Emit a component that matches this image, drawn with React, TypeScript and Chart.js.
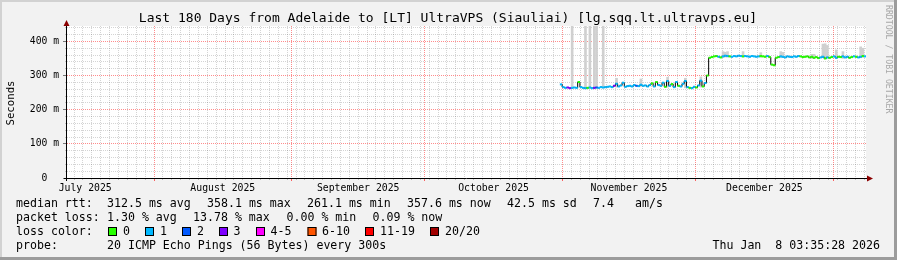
import React, { useEffect, useRef } from 'react';
import { Chart, registerables } from 'chart.js';

Chart.register(...registerables);

const MONO = '"DejaVu Sans Mono", monospace';

const titleText = 'Last 180 Days from Adelaide to [LT] UltraVPS (Siauliai) [lg.sqq.lt.ultravps.eu]';

// x axis: days since 2025-07-12 00:00 (local time)
const rangeStartDay = 0.4;
const rangeEndDay = 180.4;
const monthLabels = ['July 2025', 'August 2025', 'September 2025', 'October 2025', 'November 2025', 'December 2025'];
const monthStartDays = [-11, 20, 51, 81, 112, 142, 173];
const minorGridStepDays = 2;

// y axis (ms)
const yMax = 445;
const yStep = 20;
const yLabelStep = 100;

// samples
const firstSampleDay = 111.7;
const sampleStepDays = 0.5;

const medianRtt = [
  274, 266, 264, 265, 263, 264, 265, 264, 281, 266,
  264, 263, 264, 265, 263, 264, 265, 264, 266, 265,
  266, 267, 268, 266, 270, 276, 268, 271, 279, 267,
  269, 270, 268, 272, 270, 269, 273, 270, 271, 268,
  272, 277, 268, 281, 272, 270, 279, 267, 284, 270,
  275, 266, 281, 270, 268, 276, 284, 266, 264, 263,
  267, 265, 271, 285, 268, 278, 300, 352,
  354, 356, 357, 355, 353, 356, 358, 357, 356, 355, 357, 356, 358, 357,
  356, 357, 356, 355, 357, 356, 355, 356, 357, 356, 355, 357, 354,
  332, 330, 352,
  354, 356, 355, 353, 356, 355, 354, 356, 355, 357,
  356, 354, 355, 356, 353, 355, 352, 354, 351, 353,
  355, 350, 353, 352, 354, 356, 352, 355, 354, 356,
  353, 355, 352, 354, 356, 355, 353, 355, 357, 356,
];

const lossCount = [
  1, 1, 1, 3, 3, 1, 1, 1, 0, 1,
  1, 1, 0, 1, 1, 3, 2, 1, 1, 1,
  1, 1, 1, 1, 3, 1, 1, 1, 1, 1,
  1, 1, 1, 1, 2, 1, 1, 1, 1, 1,
  1, 0, 1, 0, 1, 1, 1, 0, 1, 1,
  0, 1, 1, 0, 1, 1, 1, 1, 0, 1,
  1, 0, 1, 1, 0, 1, 0, 0,
  0, 0, 0, 1, 0, 1, 1, 1, 0, 1, 1, 1, 1, 1,
  0, 1, 1, 1, 1, 1, 1, 1, 0, 0, 0, 1, 0,
  0, 0, 0,
  0, 1, 1, 1, 1, 1, 1, 1, 1, 1,
  0, 0, 0, 0, 0, 0, 0, 0, 0, 1,
  1, 0, 1, 0, 0, 1, 1, 0, 0, 1,
  1, 1, 0, 0, 1, 0, 1, 1, 0, 1,
];

// smoke (min..max of individual pings) where visible
const smokeIndex = [5, 11, 13, 15, 16, 19, 25, 36, 48, 56, 63, 73, 74, 75, 82, 90, 99, 100, 113, 114, 118, 119, 120, 124, 127, 135, 136];
const smokeMax = [445, 445, 445, 445, 445, 445, 292, 290, 295, 292, 296, 370, 368, 370, 370, 367, 370, 368, 362, 362, 392, 393, 388, 375, 370, 384, 380];
const smokeMin = [262, 261, 262, 261, 262, 263, 266, 268, 266, 264, 266, 353, 354, 354, 354, 353, 352, 353, 350, 351, 352, 351, 352, 351, 350, 352, 353];

const lossLegend = ['0', '1', '2', '3', '4-5', '6-10', '11-19', '20/20'];
const lossLegendColors = ['#26ff00', '#00b8ff', '#0059ff', '#7e00ff', '#ff00ff', '#ff5500', '#ff0000', '#a10000'];

const statsRtt = ['median rtt:', '312.5 ms avg', '358.1 ms max', '261.1 ms min', '357.6 ms now', '42.5 ms sd', '7.4', 'am/s'];
const statsLoss = ['packet loss:', '1.30 % avg', '13.78 % max', '0.00 % min', '0.09 % now'];
const probeText = ['probe:', '20 ICMP Echo Pings (56 Bytes) every 300s'];
const dateText = 'Thu Jan  8 03:35:28 2026';
const sideText = 'RRDTOOL / TOBI OETIKER';

function lossColor(n: number): string {
  if (n <= 3) return lossLegendColors[n];
  if (n <= 5) return lossLegendColors[4];
  if (n <= 10) return lossLegendColors[5];
  if (n <= 19) return lossLegendColors[6];
  return lossLegendColors[7];
}

const majorDays = monthStartDays.filter((d) => d > rangeStartDay && d < rangeEndDay);
const minorDays: number[] = [];
for (let d = minorGridStepDays; d < rangeEndDay; d += minorGridStepDays) {
  if (!majorDays.includes(d)) minorDays.push(d);
}
const labelDays: number[] = [];
const labelByDay = new Map<number, string>();
monthLabels.forEach((name, k) => {
  const mid = (monthStartDays[k] + monthStartDays[k + 1]) / 2;
  if (mid > rangeStartDay && mid < rangeEndDay) {
    labelDays.push(mid);
    labelByDay.set(mid, name);
  }
});
const yMajorValues: number[] = [];
const yMinorValues: number[] = [];
for (let v = 0; v <= yMax; v += yStep) {
  if (v % yLabelStep === 0) yMajorValues.push(v);
  else yMinorValues.push(v);
}

const MINOR = 'rgba(0,0,0,0.17)';
const MAJOR = 'rgba(255,0,0,0.45)';

const framePlugin = {
  id: 'rrdFrame',
  beforeDraw(chart: any) {
    const { ctx, chartArea: a } = chart;
    ctx.save();
    ctx.fillStyle = '#f2f2f2';
    ctx.fillRect(0, 0, 897, 260);
    ctx.fillStyle = '#d2d2d2';
    ctx.fillRect(0, 0, 897, 2);
    ctx.fillRect(0, 0, 2, 260);
    ctx.fillStyle = '#9c9c9c';
    ctx.fillRect(0, 257, 897, 3);
    ctx.fillRect(894, 0, 3, 260);
    ctx.fillStyle = '#ffffff';
    ctx.fillRect(a.left, a.top, a.right - a.left, a.bottom - a.top);
    ctx.restore();
  },
  afterDatasetsDraw(chart: any) {
    const { ctx, chartArea: a } = chart;
    ctx.save();
    ctx.strokeStyle = '#000';
    ctx.lineWidth = 1;
    ctx.beginPath();
    ctx.moveTo(a.left - 0.5, a.bottom + 3);
    ctx.lineTo(a.left - 0.5, 23);
    ctx.moveTo(a.left - 3, a.bottom + 0.5);
    ctx.lineTo(a.right + 3, a.bottom + 0.5);
    ctx.stroke();
    ctx.fillStyle = '#8b0000';
    ctx.beginPath();
    ctx.moveTo(a.left - 0.5, 20);
    ctx.lineTo(a.left - 3.5, 26);
    ctx.lineTo(a.left + 2.5, 26);
    ctx.closePath();
    ctx.fill();
    ctx.beginPath();
    ctx.moveTo(a.right + 7, a.bottom + 0.5);
    ctx.lineTo(a.right + 1, a.bottom - 2.5);
    ctx.lineTo(a.right + 1, a.bottom + 3.5);
    ctx.closePath();
    ctx.fill();
    ctx.restore();
  },
  afterDraw(chart: any) {
    const { ctx } = chart;
    ctx.save();
    ctx.fillStyle = '#000';
    ctx.textBaseline = 'middle';
    ctx.textAlign = 'center';
    ctx.font = `13px ${MONO}`;
    ctx.fillText(titleText, 448, 19);

    ctx.save();
    ctx.translate(11, 103);
    ctx.rotate(-Math.PI / 2);
    ctx.font = `10.7px ${MONO}`;
    ctx.fillText('Seconds', 0, 0);
    ctx.restore();

    ctx.save();
    ctx.translate(888, 5);
    ctx.rotate(Math.PI / 2);
    ctx.textAlign = 'left';
    ctx.fillStyle = '#a8a8a8';
    ctx.font = `8.2px ${MONO}`;
    ctx.fillText(sideText, 0, 0);
    ctx.restore();

    ctx.textAlign = 'left';
    ctx.font = `11.6px ${MONO}`;
    const rttX = [16, 107, 207, 307, 407, 507, 593, 635];
    statsRtt.forEach((t, i) => ctx.fillText(t, rttX[i], 204));
    const lossX = [16, 107, 193, 286.5, 372.5];
    statsLoss.forEach((t, i) => ctx.fillText(t, lossX[i], 218));
    ctx.fillText('loss color:', 16, 232);
    const boxX = [108, 145, 182, 219, 256, 307.5, 365, 430];
    const textX = [123, 160, 197, 233.5, 270.5, 322, 380, 445];
    lossLegend.forEach((t, i) => {
      ctx.fillStyle = lossLegendColors[i];
      ctx.fillRect(boxX[i], 227, 9, 9);
      ctx.strokeStyle = '#000';
      ctx.lineWidth = 1;
      ctx.strokeRect(boxX[i] + 0.5, 227.5, 8, 8);
      ctx.fillStyle = '#000';
      ctx.fillText(t, textX[i], 232);
    });
    ctx.fillText(probeText[0], 16, 246);
    ctx.fillText(probeText[1], 107, 246);
    ctx.textAlign = 'right';
    ctx.fillText(dateText, 880, 246);
    ctx.restore();
  },
};

function fixedTicks(values: number[]) {
  return (s: any) => {
    s.ticks = values.map((v) => ({ value: v }));
  };
}

export default function App() {
  const ref = useRef<HTMLCanvasElement>(null);

  useEffect(() => {
    document.body.style.margin = '0';
    const canvas = ref.current;
    if (!canvas) return;

    const sampleDays = medianRtt.map((_, i) => firstSampleDay + i * sampleStepDays);
    const medianPoints = medianRtt.map((v, i) => ({ x: sampleDays[i], y: v }));
    const smokeBars = smokeIndex.map((k, j) => ({ x: sampleDays[k], y: [smokeMin[j], smokeMax[j]] }));

    const xBase = { type: 'linear', min: rangeStartDay, max: rangeEndDay, offset: false, position: 'bottom' };
    const yBase = { type: 'linear', min: 0, max: yMax, position: 'left' };

    const chart = new Chart(canvas, {
      type: 'line',
      data: {
        datasets: [
          {
            type: 'bar',
            label: 'smoke',
            data: smokeBars as any,
            backgroundColor: '#d0d0d0',
            borderWidth: 0,
            barThickness: 2,
            grouped: false,
            order: 3,
            xAxisID: 'x',
            yAxisID: 'y',
          } as any,
          {
            type: 'line',
            label: 'median',
            data: medianPoints,
            borderColor: '#000',
            borderWidth: 1,
            stepped: 'middle',
            pointRadius: 0,
            fill: false,
            order: 2,
            xAxisID: 'x',
            yAxisID: 'y',
          } as any,
          {
            type: 'line',
            label: 'loss',
            data: medianPoints,
            showLine: false,
            pointStyle: 'line',
            pointRadius: 1.2,
            pointHoverRadius: 1.2,
            pointBorderWidth: 2,
            pointBorderColor: lossCount.map(lossColor),
            pointBackgroundColor: lossCount.map(lossColor),
            order: 1,
            xAxisID: 'x',
            yAxisID: 'y',
          } as any,
        ],
      },
      options: {
        responsive: false,
        animation: false,
        devicePixelRatio: 1,
        events: [],
        layout: { padding: { left: 0, top: 26, right: 31, bottom: 0 } },
        plugins: {
          legend: { display: false },
          tooltip: { enabled: false },
          title: { display: false },
        },
        scales: {
          // month labels (no grid)
          x: {
            ...xBase,
            weight: 2,
            afterFit: (s: any) => {
              s.height = 82;
            },
            afterBuildTicks: fixedTicks(labelDays),
            grid: { display: false, drawTicks: false },
            border: { display: false },
            ticks: {
              autoSkip: false,
              maxRotation: 0,
              minRotation: 0,
              padding: 5,
              color: '#000',
              font: { family: MONO, size: 9.8 },
              callback: (v: any) => labelByDay.get(Number(v)) || '',
            },
          } as any,
          // minor vertical grid (every 2 days)
          xMinor: {
            ...xBase,
            weight: 1,
            afterFit: (s: any) => {
              s.height = 0;
            },
            afterBuildTicks: fixedTicks(minorDays),
            grid: { color: MINOR, tickColor: '#bdbdbd', lineWidth: 1, tickLength: 2 },
            border: { display: false, dash: [1, 1] },
            ticks: { display: false, autoSkip: false },
          } as any,
          // major vertical grid (month starts)
          xMajor: {
            ...xBase,
            weight: 0,
            afterFit: (s: any) => {
              s.height = 0;
            },
            afterBuildTicks: fixedTicks(majorDays),
            grid: { color: MAJOR, tickColor: 'rgba(255,0,0,0.6)', lineWidth: 1, tickLength: 3 },
            border: { display: false, dash: [1, 1] },
            ticks: { display: false, autoSkip: false },
          } as any,
          // labels + major horizontal grid
          y: {
            ...yBase,
            weight: 1,
            afterFit: (s: any) => {
              s.width = 67;
            },
            afterBuildTicks: fixedTicks(yMajorValues),
            grid: { color: MAJOR, tickColor: '#777', lineWidth: 1, tickLength: 4 },
            border: { display: false, dash: [1, 1] },
            ticks: {
              autoSkip: false,
              padding: 4,
              color: '#000',
              font: { family: MONO, size: 9.7 },
              callback: (v: any) => {
                const n = Number(v);
                return n === 0 ? '0  ' : `${n} m`;
              },
            },
          } as any,
          // minor horizontal grid
          yMinor: {
            ...yBase,
            weight: 0,
            afterFit: (s: any) => {
              s.width = 0;
            },
            afterBuildTicks: fixedTicks(yMinorValues),
            grid: { color: MINOR, tickColor: '#c4c4c4', lineWidth: 1, tickLength: 2 },
            border: { display: false, dash: [1, 1] },
            ticks: { display: false, autoSkip: false },
          } as any,
        },
      },
      plugins: [framePlugin],
    });

    return () => chart.destroy();
  }, []);

  return (
    <div style={{ width: 897, height: 260 }}>
      <canvas ref={ref} width={897} height={260} style={{ display: 'block', width: 897, height: 260 }} />
    </div>
  );
}
